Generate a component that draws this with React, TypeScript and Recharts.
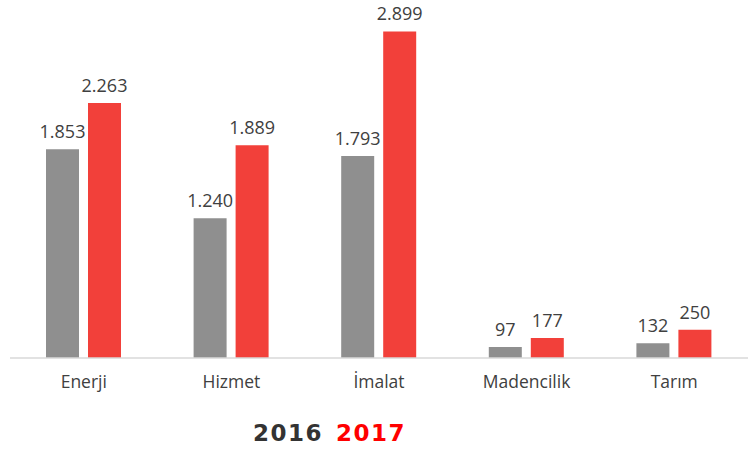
import React from 'react';
import { BarChart, Bar, XAxis, YAxis, LabelList } from 'recharts';

const categories = ['Enerji', 'Hizmet', 'İmalat', 'Madencilik', 'Tarım'];
const values2016 = [1853, 1240, 1793, 97, 132];
const values2017 = [2263, 1889, 2899, 177, 250];
const seriesNames = ['2016', '2017'];

const data = categories.map((c, i) => ({ name: c, y2016: values2016[i], y2017: values2017[i] }));

const fmt = (v: any) => {
  const n = Number(v);
  return String(n).replace(/\B(?=(\d{3})+(?!\d))/g, '.');
};

const FONT = '"Open Sans", "Noto Sans", sans-serif';

export default function App() {
  return (
    <div style={{ position: 'absolute', left: 0, top: 0, width: 752, height: 450, background: '#fff' }}>
      <BarChart
        width={752}
        height={450}
        data={data}
        margin={{ top: 20, right: 4, left: 10, bottom: 62 }}
        barGap={9}
        barSize={33}
      >
        <XAxis
          dataKey="name"
          axisLine={{ stroke: '#d9d9d9', strokeWidth: 1.5 }}
          tickLine={false}
          height={30}
          tick={{ fill: '#404040', fontSize: 17.5, fontFamily: FONT }}
          tickMargin={12}
          interval={0}
        />
        <YAxis hide domain={[0, 3000]} />
        <Bar dataKey="y2016" name={seriesNames[0]} fill="#8f8f8f" isAnimationActive={false}>
          <LabelList dataKey="y2016" position="top" offset={11} formatter={fmt} fill="#404040" fontSize={18} fontFamily={FONT} />
        </Bar>
        <Bar dataKey="y2017" name={seriesNames[1]} fill="#f2403a" isAnimationActive={false}>
          <LabelList dataKey="y2017" position="top" offset={11} formatter={fmt} fill="#404040" fontSize={18} fontFamily={FONT} />
        </Bar>
      </BarChart>
      <div
        style={{
          position: 'absolute',
          left: 253,
          top: 418,
          fontFamily: '"DejaVu Sans", sans-serif',
          fontWeight: 'bold',
          fontSize: 23,
          letterSpacing: 1.5,
          lineHeight: '30px',
          whiteSpace: 'nowrap',
        }}
      >
        <span style={{ color: '#333333' }}>{seriesNames[0]}</span>
        <span style={{ color: '#ff0000', marginLeft: 13 }}>{seriesNames[1]}</span>
      </div>
    </div>
  );
}
